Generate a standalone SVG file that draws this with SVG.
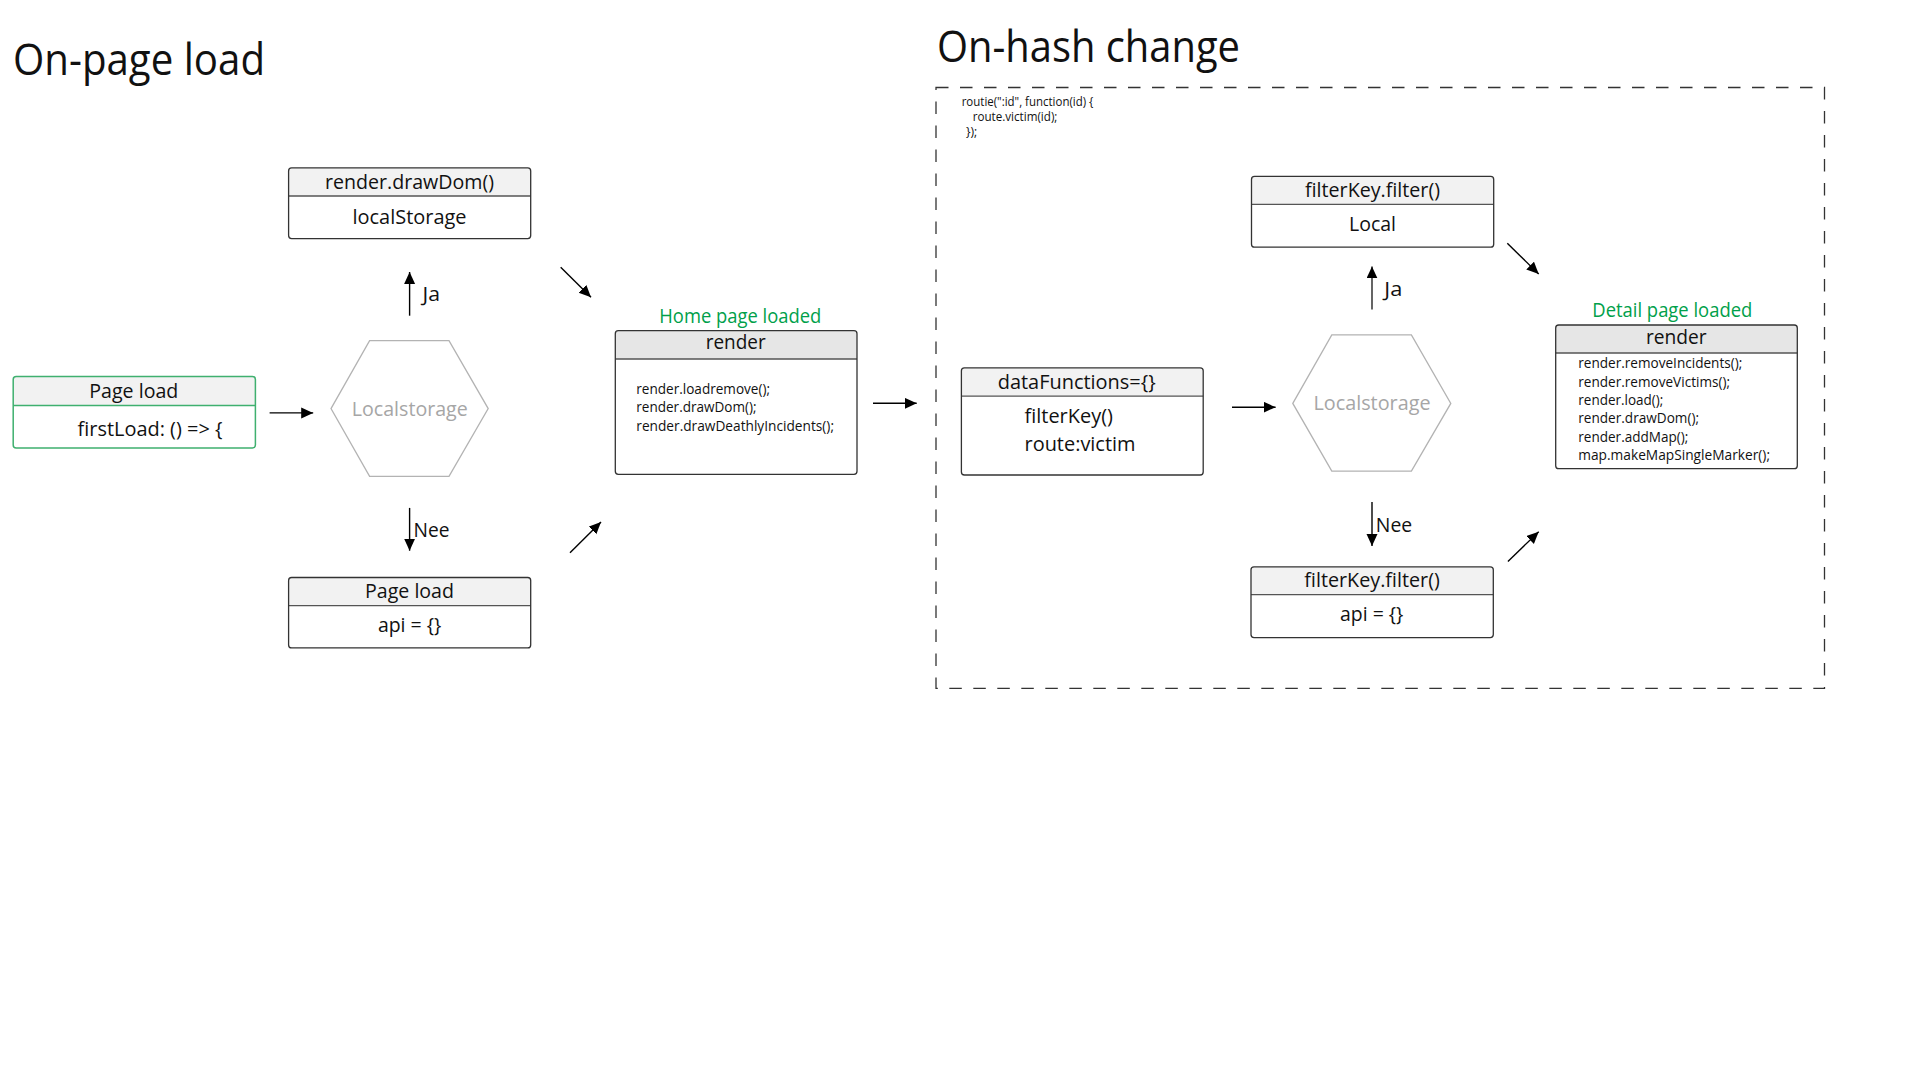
<svg xmlns="http://www.w3.org/2000/svg" width="1920" height="1080" viewBox="0 0 1920 1080">
<defs>
<marker id="ah" markerUnits="userSpaceOnUse" markerWidth="13" markerHeight="12" refX="12" refY="5.5" orient="auto">
<path d="M0,0 L12,5.5 L0,11 z" fill="#000"/>
</marker>
<style>
text{font-family:"Open Sans","Liberation Sans",sans-serif;fill:#111}
.t{font-size:43px}
.h{font-size:20.5px}
.b{font-size:14.2px}
.s{font-size:12px}
.g{fill:#00a04a}
.hx{fill:#a6a6a6}
.box{fill:none;stroke:#333;stroke-width:1.3}
.hd{fill:#f2f2f2}
.hd2{fill:#e6e6e6}
.dv{stroke:#555;stroke-width:1.3}
.gb{fill:none;stroke:#3fb06f;stroke-width:1.5}
.gdv{stroke:#3fb06f;stroke-width:1.5}
.hex{fill:none;stroke:#b3b3b3;stroke-width:1.3}
.c{stroke:#000;stroke-width:1.4;fill:none;marker-end:url(#ah)}
</style>
</defs>
<rect width="1920" height="1080" fill="#fff"/>

<text class="t" x="13" y="75" textLength="252" lengthAdjust="spacingAndGlyphs">On-page load</text>
<text class="t" x="937" y="62" textLength="303" lengthAdjust="spacingAndGlyphs">On-hash change</text>

<rect id="onhash-frame" x="936" y="87.5" width="888.5" height="600.8" fill="none" stroke="#333" stroke-width="1.3" stroke-dasharray="12.5 11.5"/>
<g id="routie-code">
<text class="s" x="961.7" y="105.7" textLength="131.7" lengthAdjust="spacingAndGlyphs">routie(":id", function(id) {</text>
<text class="s" x="972.7" y="120.7" textLength="84.7" lengthAdjust="spacingAndGlyphs">route.victim(id);</text>
<text class="s" x="966" y="136" textLength="11.3" lengthAdjust="spacingAndGlyphs">});</text>
</g>

<g id="node-drawdom">
<path class="hd" d="M288.6,196 V170.9 Q288.6,167.9 291.6,167.9 H527.7 Q530.7,167.9 530.7,170.9 V196 Z"/>
<line class="dv" x1="288.6" y1="196" x2="530.7" y2="196"/>
<rect class="box" x="288.6" y="167.9" width="242.1" height="70.7" rx="3"/>
<text class="h" x="325" y="189" textLength="169" lengthAdjust="spacingAndGlyphs">render.drawDom()</text>
<text class="h" x="352.5" y="224" textLength="114" lengthAdjust="spacingAndGlyphs">localStorage</text>
</g>

<g id="node-pageload-first">
<path class="hd" d="M13.2,405.4 V379.4 Q13.2,376.4 16.2,376.4 H252.4 Q255.4,376.4 255.4,379.4 V405.4 Z"/>
<line class="gdv" x1="13.2" y1="405.4" x2="255.4" y2="405.4"/>
<rect class="gb" x="13.2" y="376.4" width="242.2" height="71.5" rx="3"/>
<text class="h" x="89.3" y="398" textLength="89" lengthAdjust="spacingAndGlyphs">Page load</text>
<text class="h" x="77.5" y="435.7" textLength="145" lengthAdjust="spacingAndGlyphs">firstLoad: () =&gt; {</text>
</g>

<g id="node-localstorage-1">
<polygon class="hex" points="331,408.6 369.6,340.7 449,340.7 488.2,408.6 449,476.4 369.6,476.4"/>
<text class="h hx" x="351.8" y="415.7" textLength="116" lengthAdjust="spacingAndGlyphs">Localstorage</text>
</g>

<g id="node-pageload-api">
<path class="hd" d="M288.6,605.7 V580.5 Q288.6,577.5 291.6,577.5 H527.7 Q530.7,577.5 530.7,580.5 V605.7 Z"/>
<line class="dv" x1="288.6" y1="605.7" x2="530.7" y2="605.7"/>
<rect class="box" x="288.6" y="577.5" width="242.1" height="70.4" rx="3"/>
<text class="h" x="365" y="598" textLength="89" lengthAdjust="spacingAndGlyphs">Page load</text>
<text class="h" x="377.9" y="632" textLength="63.5" lengthAdjust="spacingAndGlyphs">api = {}</text>
</g>

<g id="node-render-home">
<text class="h g" font-size="19" x="659.3" y="322.7" textLength="162" lengthAdjust="spacingAndGlyphs">Home page loaded</text>
<path class="hd2" d="M615.3,359 V333.7 Q615.3,330.7 618.3,330.7 H854 Q857,330.7 857,333.7 V359 Z"/>
<line class="dv" x1="615.3" y1="359" x2="857" y2="359"/>
<rect class="box" x="615.3" y="330.7" width="241.7" height="143.6" rx="3"/>
<text class="h" x="705.7" y="349.3" textLength="60" lengthAdjust="spacingAndGlyphs">render</text>
<text class="b" x="636.3" y="394.3" textLength="133.7" lengthAdjust="spacingAndGlyphs">render.loadremove();</text>
<text class="b" x="636.3" y="412.3" textLength="120.3" lengthAdjust="spacingAndGlyphs">render.drawDom();</text>
<text class="b" x="636.3" y="430.7" textLength="197.7" lengthAdjust="spacingAndGlyphs">render.drawDeathlyIncidents();</text>
</g>

<g id="node-datafunctions">
<path class="hd" d="M961.4,396.1 V370.8 Q961.4,367.8 964.4,367.8 H1200.2 Q1203.2,367.8 1203.2,370.8 V396.1 Z"/>
<line class="dv" x1="961.4" y1="396.1" x2="1203.2" y2="396.1"/>
<rect class="box" x="961.4" y="367.8" width="241.8" height="107.2" rx="3"/>
<text class="h" x="997.7" y="388.5" textLength="158" lengthAdjust="spacingAndGlyphs">dataFunctions={}</text>
<text class="h" x="1024.5" y="422.9" textLength="88.4" lengthAdjust="spacingAndGlyphs">filterKey()</text>
<text class="h" x="1024.5" y="450.5" textLength="111" lengthAdjust="spacingAndGlyphs">route:victim</text>
</g>

<g id="node-localstorage-2">
<polygon class="hex" points="1292.8,403.4 1331.8,334.9 1411.4,334.9 1450.8,403.4 1411.4,471.1 1331.8,471.1"/>
<text class="h hx" x="1313.5" y="409.9" textLength="117" lengthAdjust="spacingAndGlyphs">Localstorage</text>
</g>

<g id="node-filter-local">
<path class="hd" d="M1251.5,204.4 V179.4 Q1251.5,176.4 1254.5,176.4 H1490.7 Q1493.7,176.4 1493.7,179.4 V204.4 Z"/>
<line class="dv" x1="1251.5" y1="204.4" x2="1493.7" y2="204.4"/>
<rect class="box" x="1251.5" y="176.4" width="242.2" height="70.8" rx="3"/>
<text class="h" x="1305" y="196.7" textLength="135" lengthAdjust="spacingAndGlyphs">filterKey.filter()</text>
<text class="h" x="1349" y="231.2" textLength="47" lengthAdjust="spacingAndGlyphs">Local</text>
</g>

<g id="node-filter-api">
<path class="hd" d="M1251,594.7 V569.8 Q1251,566.8 1254,566.8 H1490.3 Q1493.3,566.8 1493.3,569.8 V594.7 Z"/>
<line class="dv" x1="1251" y1="594.7" x2="1493.3" y2="594.7"/>
<rect class="box" x="1251" y="566.8" width="242.3" height="70.8" rx="3"/>
<text class="h" x="1304.3" y="587" textLength="135.5" lengthAdjust="spacingAndGlyphs">filterKey.filter()</text>
<text class="h" x="1340" y="620.8" textLength="63.4" lengthAdjust="spacingAndGlyphs">api = {}</text>
</g>

<g id="node-render-detail">
<text class="h g" font-size="19" x="1592.3" y="316.7" textLength="160" lengthAdjust="spacingAndGlyphs">Detail page loaded</text>
<path class="hd2" d="M1555.7,353 V328 Q1555.7,325 1558.7,325 H1794.3 Q1797.3,325 1797.3,328 V353 Z"/>
<line class="dv" x1="1555.7" y1="353" x2="1797.3" y2="353"/>
<rect class="box" x="1555.7" y="325" width="241.6" height="143.7" rx="3"/>
<text class="h" x="1646" y="344.3" textLength="60.7" lengthAdjust="spacingAndGlyphs">render</text>
<text class="b" x="1578.3" y="368.3" textLength="164" lengthAdjust="spacingAndGlyphs">render.removeIncidents();</text>
<text class="b" x="1578.3" y="386.7" textLength="151.7" lengthAdjust="spacingAndGlyphs">render.removeVictims();</text>
<text class="b" x="1578.3" y="405" textLength="85" lengthAdjust="spacingAndGlyphs">render.load();</text>
<text class="b" x="1578.3" y="423.3" textLength="120.7" lengthAdjust="spacingAndGlyphs">render.drawDom();</text>
<text class="b" x="1578.3" y="441.7" textLength="110" lengthAdjust="spacingAndGlyphs">render.addMap();</text>
<text class="b" x="1578.3" y="460" textLength="191.7" lengthAdjust="spacingAndGlyphs">map.makeMapSingleMarker();</text>
</g>

<g id="connectors">
<line class="c" x1="269.6" y1="412.9" x2="313.2" y2="412.9"/>
<line class="c" x1="409.6" y1="315.7" x2="409.6" y2="272"/>
<line class="c" x1="409.6" y1="507.9" x2="409.6" y2="550.7"/>
<line class="c" x1="560.7" y1="267.3" x2="591" y2="297.3"/>
<line class="c" x1="570" y1="552.7" x2="601" y2="522"/>
<line class="c" x1="873" y1="403.3" x2="916.7" y2="403.3"/>
<line class="c" x1="1232" y1="407.2" x2="1275.6" y2="407.2"/>
<line class="c" x1="1372" y1="309.6" x2="1372" y2="266.4" style="stroke:#555;stroke-width:1.8"/>
<line class="c" x1="1372" y1="502" x2="1372" y2="546.1"/>
<line class="c" x1="1507.3" y1="243.3" x2="1538.7" y2="274"/>
<line class="c" x1="1507.9" y1="561.4" x2="1538.7" y2="531.7"/>
<text class="h" x="422.5" y="301.4" textLength="17.5" lengthAdjust="spacingAndGlyphs">Ja</text>
<text class="h" x="413.6" y="537" textLength="36" lengthAdjust="spacingAndGlyphs">Nee</text>
<text class="h" x="1384.3" y="295.5" textLength="18" lengthAdjust="spacingAndGlyphs">Ja</text>
<text class="h" x="1375.8" y="531.6" textLength="36.4" lengthAdjust="spacingAndGlyphs">Nee</text>
</g>
</svg>
